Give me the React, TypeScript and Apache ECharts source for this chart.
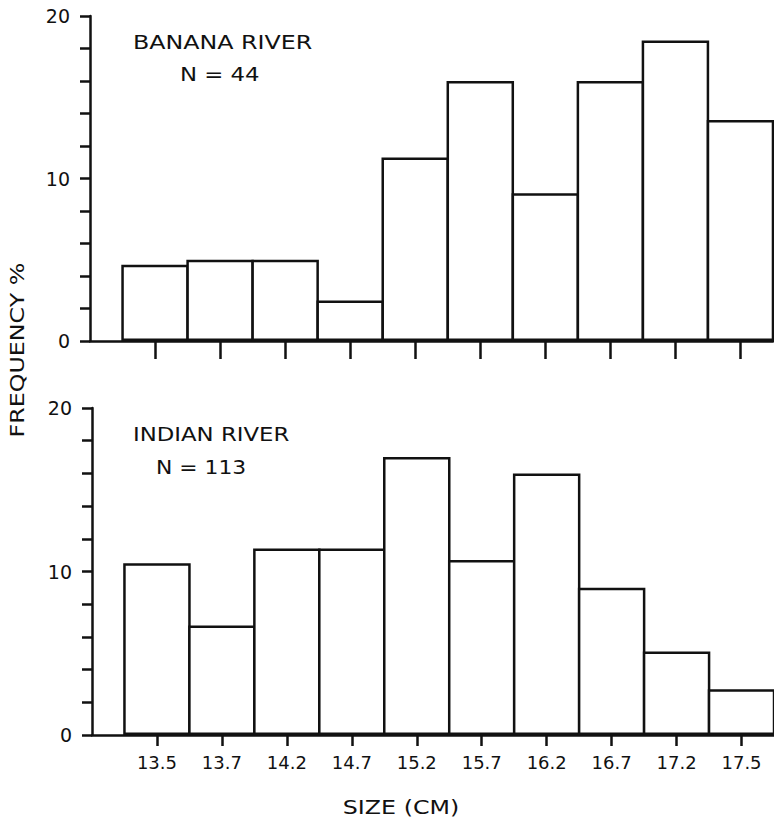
import React, { useEffect, useRef } from "react";
import * as echarts from "echarts";

const sizeLabels = ["13.5", "13.7", "14.2", "14.7", "15.2", "15.7", "16.2", "16.7", "17.2", "17.5"];
const bananaValues = [4.7, 5.0, 5.0, 2.5, 11.3, 16.0, 9.1, 16.0, 18.5, 13.6];
const indianValues = [10.5, 6.7, 11.4, 11.4, 17.0, 10.7, 16.0, 9.0, 5.1, 2.8];
const yLabelValues = [0, 10, 20];
const binPositions = [0, 1, 2, 3, 4, 5, 6, 7, 8, 9];

const FONT = "DejaVu Sans";
const INK = "#111";

export default function App() {
  const ref = useRef<HTMLDivElement>(null);
  useEffect(() => {
    if (!ref.current) return;
    const chart = echarts.init(ref.current, null, { renderer: "svg" });
    const lineStyle = { color: INK, width: 2.5 };
    const makeX = (gridIndex: number, tickLen: number, showLabels: boolean) => ({
      type: "value",
      gridIndex,
      min: -1,
      max: 9.5,
      axisLine: { show: true, onZero: false, lineStyle },
      axisTick: { show: true, length: tickLen, inside: false, lineStyle, customValues: binPositions },
      axisLabel: {
        show: showLabels,
        customValues: binPositions,
        margin: 18,
        fontFamily: FONT,
        fontSize: 18,
        color: INK,
        formatter: (v: number) => sizeLabels[Math.round(v)] ?? "",
      },
      splitLine: { show: false },
    });
    const makeY = (gridIndex: number) => ({
      type: "value",
      gridIndex,
      min: 0,
      max: 20,
      interval: 2,
      axisLine: { show: true, onZero: false, lineStyle },
      axisTick: { show: true, length: 10, inside: false, lineStyle },
      axisLabel: {
        customValues: yLabelValues,
        margin: 20,
        fontFamily: FONT,
        fontSize: 19,
        color: INK,
      },
      splitLine: { show: false },
    });
    const barStyle = { color: "#fff", borderColor: INK, borderWidth: 2.5 };
    chart.setOption({
      animation: false,
      backgroundColor: "#fff",
      grid: [
        { left: 90, right: 1, top: 16, height: 325 },
        { left: 92, right: 0, top: 408, height: 327 },
      ],
      xAxis: [makeX(0, 18, false), makeX(1, 11, true)],
      yAxis: [makeY(0), makeY(1)],
      series: [
        {
          type: "bar",
          xAxisIndex: 0,
          yAxisIndex: 0,
          barWidth: 67.5,
          itemStyle: barStyle,
          data: bananaValues.map((v, i) => [binPositions[i], v]),
        },
        {
          type: "bar",
          xAxisIndex: 1,
          yAxisIndex: 1,
          barWidth: 67.5,
          itemStyle: barStyle,
          data: indianValues.map((v, i) => [binPositions[i], v]),
        },
      ],
      graphic: [
        {
          type: "text",
          x: 133,
          y: 42,
          scaleX: 1.25,
          style: { text: "BANANA RIVER", font: `19px "${FONT}"`, fill: INK, verticalAlign: "middle" },
        },
        {
          type: "text",
          x: 180,
          y: 75,
          scaleX: 1.2,
          style: { text: "N = 44", font: `19px "${FONT}"`, fill: INK, verticalAlign: "middle" },
        },
        {
          type: "text",
          x: 133,
          y: 435,
          scaleX: 1.2,
          style: { text: "INDIAN RIVER", font: `19px "${FONT}"`, fill: INK, verticalAlign: "middle" },
        },
        {
          type: "text",
          x: 156,
          y: 468,
          scaleX: 1.15,
          style: { text: "N = 113", font: `19px "${FONT}"`, fill: INK, verticalAlign: "middle" },
        },
        {
          type: "text",
          x: 17,
          y: 350,
          rotation: Math.PI / 2,
          scaleX: 1.25,
          style: {
            text: "FREQUENCY %",
            font: `19px "${FONT}"`,
            fill: INK,
            align: "center",
            verticalAlign: "middle",
          },
        },
        {
          type: "text",
          x: 401,
          y: 807,
          scaleX: 1.25,
          style: {
            text: "SIZE (CM)",
            font: `19px "${FONT}"`,
            fill: INK,
            align: "center",
            verticalAlign: "middle",
          },
        },
      ],
    });
    return () => chart.dispose();
  }, []);
  return (
    <div
      ref={ref}
      style={{ position: "absolute", left: 0, top: 0, width: 774, height: 819 }}
    />
  );
}
